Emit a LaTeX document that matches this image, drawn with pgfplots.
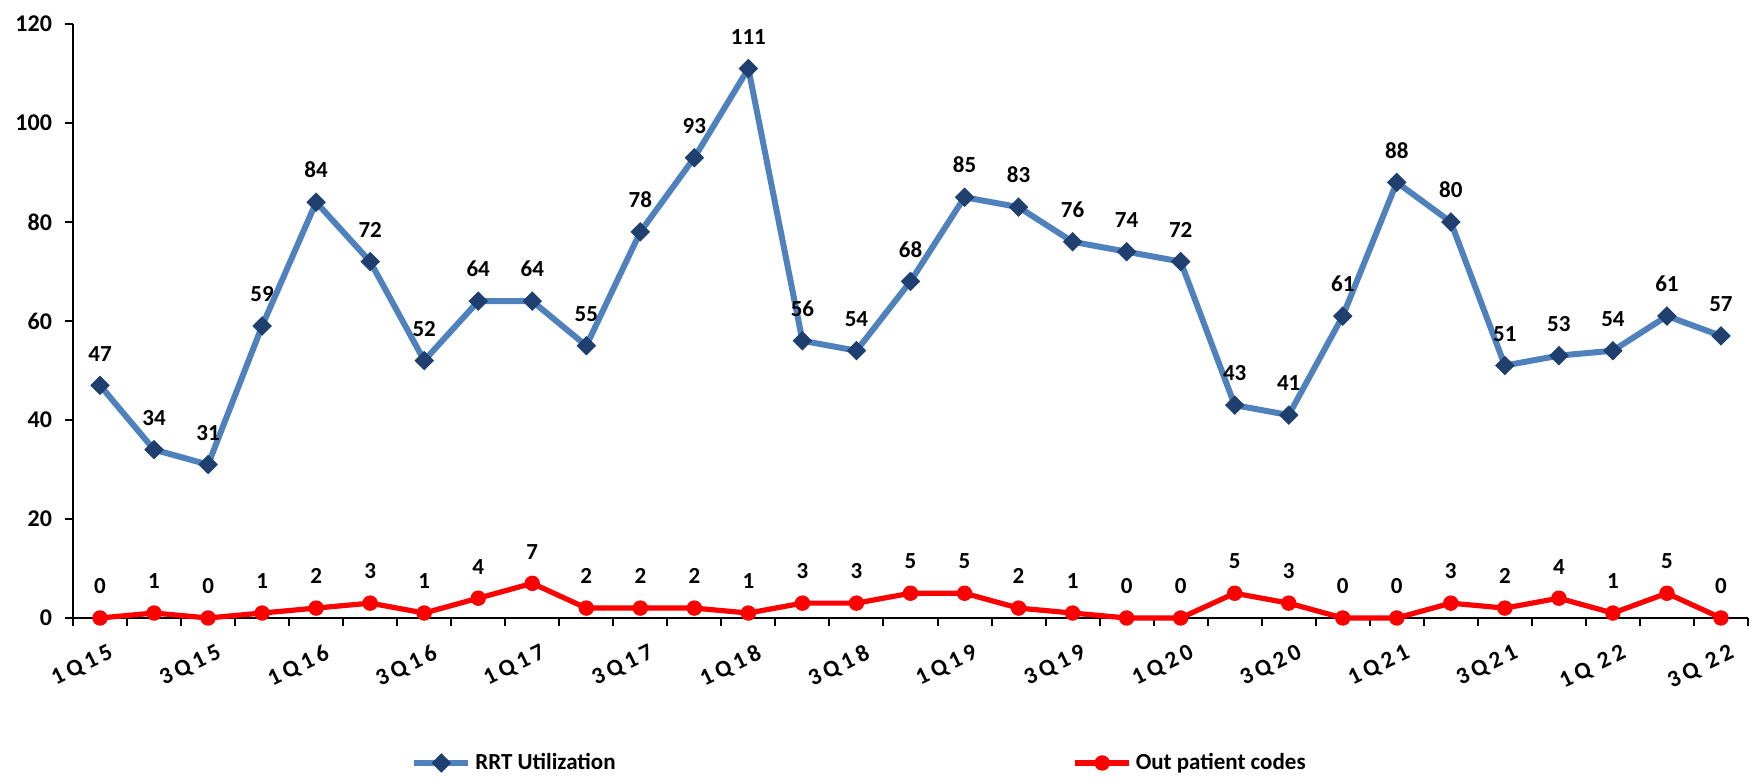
\documentclass[border=0pt]{standalone}
\usepackage{fontspec}
\setmainfont{Carlito}
\usepackage{pgfplots}
\pgfplotsset{compat=1.18}
\definecolor{rrtline}{HTML}{4F81BD}
\definecolor{rrtmark}{HTML}{1F3F6E}
\definecolor{opred}{HTML}{FF0000}

\begin{document}
\begin{tikzpicture}
% page size = reference proportions (1 px = 0.5pt)
\path[use as bounding box] (-36.5pt,-80.5pt) rectangle (842.5pt,309pt);
\begin{axis}[
  at={(0pt,0pt)}, anchor=south west,
  scale only axis,
  width=837.5pt, height=297pt,
  xmin=-0.5, xmax=30.5, ymin=0, ymax=120,
  axis x line=bottom, axis y line=left,
  axis line style={-, line width=1pt, black},
  ytick={0,20,...,120},
  xtick={0,2,...,30},
  xticklabels={1Q15,3Q15,1Q16,3Q16,1Q17,3Q17,1Q18,3Q18,1Q19,3Q19,1Q20,3Q20,1Q21,3Q21,1Q 22,3Q 22},
  tick align=outside,
  major tick length=4pt,
  tick style={line width=1pt, black},
  xtick style={draw=none},
  % category boundaries carry the tick marks
  extra x ticks={-0.5,0.5,...,30.5},
  extra x tick labels={},
  extra x tick style={xtick style={draw=black, line width=1pt}},
  /pgf/number format/assume math mode=true,
  yticklabel style={font=\fontsize{12}{14}\selectfont\bfseries, xshift=-3pt},
  xticklabel style={font=\fontsize{11.8}{14}\selectfont\bfseries\addfontfeature{LetterSpace=18},
    rotate=26, anchor=north east, yshift=-6pt, xshift=3pt},
  clip=false,
  legend columns=2,
  legend style={draw=none, fill=none, at={(0.2018,-0.2441)}, anchor=west,
    inner sep=0pt, font=\fontsize{11.5}{14}\selectfont\bfseries,
    /tikz/every even column/.append style={column sep=226.5pt}},
  legend image code/.code={\draw[mark repeat=2,mark phase=2,#1]
    plot coordinates {(0pt,0pt) (13.5pt,0pt) (27pt,0pt)};},
  nodes near coords,
  every node near coord/.append style={font=\fontsize{11.5}{14}\selectfont\bfseries,
    black, anchor=south, yshift=8.5pt},
]

\addplot[color=rrtline, line width=3pt, mark=square*, mark size=3.2pt,
  mark options={rotate=45, fill=rrtmark, draw=rrtmark, line width=0.5pt}]
coordinates {
  (0,47)(1,34)(2,31)(3,59)(4,84)(5,72)(6,52)(7,64)(8,64)(9,55)
  (10,78)(11,93)(12,111)(13,56)(14,54)(15,68)(16,85)(17,83)(18,76)(19,74)
  (20,72)(21,43)(22,41)(23,61)(24,88)(25,80)(26,51)(27,53)(28,54)(29,61)(30,57)
};
\addlegendentry{RRT Utilization}

\addplot[color=opred, line width=2.6pt, mark=*, mark size=3.6pt,
  mark options={fill=opred, draw=opred, line width=0.5pt}]
coordinates {
  (0,0)(1,1)(2,0)(3,1)(4,2)(5,3)(6,1)(7,4)(8,7)(9,2)
  (10,2)(11,2)(12,1)(13,3)(14,3)(15,5)(16,5)(17,2)(18,1)(19,0)
  (20,0)(21,5)(22,3)(23,0)(24,0)(25,3)(26,2)(27,4)(28,1)(29,5)(30,0)
};
\addlegendentry{Out patient codes}

\end{axis}
\end{tikzpicture}
\end{document}
